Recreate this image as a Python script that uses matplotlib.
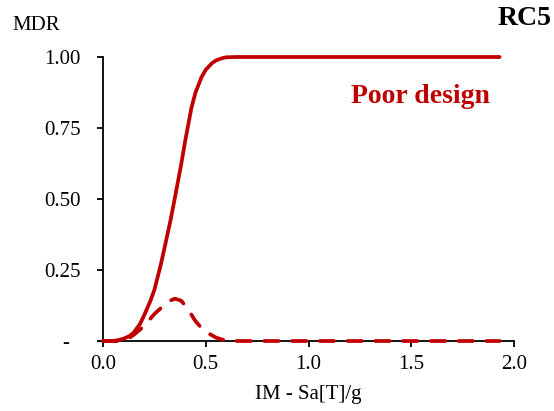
import numpy as np
from matplotlib import pyplot as plt

plt.rcParams['font.family'] = ['Liberation Serif', 'DejaVu Serif']

# intensity measure and damage ratio curves (RC5, poor design)
im = [0.0, 0.05, 0.08, 0.10, 0.13, 0.15, 0.18, 0.20, 0.23, 0.25, 0.28, 0.30,
      0.33, 0.35, 0.38, 0.40, 0.43, 0.45, 0.48, 0.50, 0.53, 0.55, 0.58, 0.60,
      0.65, 0.70, 0.80, 1.00, 1.20, 1.40, 1.60, 1.80, 1.93]
mdr = [0.0, 0.0, 0.004, 0.008, 0.018, 0.03, 0.06, 0.09, 0.14, 0.18, 0.265, 0.33,
       0.43, 0.505, 0.62, 0.705, 0.82, 0.875, 0.93, 0.955, 0.978, 0.988, 0.996, 0.999,
       1.0, 1.0, 1.0, 1.0, 1.0, 1.0, 1.0, 1.0, 1.0]
mdr_std = [0.0, 0.0, 0.0, 0.004, 0.012, 0.022, 0.04, 0.055, 0.078, 0.095, 0.115, 0.128,
           0.143, 0.149, 0.142, 0.125, 0.093, 0.07, 0.045, 0.033, 0.02, 0.012, 0.005, 0.002,
           0.0, 0.0, 0.0, 0.0, 0.0, 0.0, 0.0, 0.0, 0.0]

yticks = [0, 0.25, 0.5, 0.75, 1.0]
ylabels = ['-  ', '0.25', '0.50', '0.75', '1.00']
xticks = [0.0, 0.5, 1.0, 1.5, 2.0]

red = '#C00000'

fig = plt.figure(figsize=(5.54, 4.11), dpi=100)
ax = fig.add_axes([103/554, 1-341/411, 411/554, 284/411])

# lines sit on top of the axis and are not clipped at y = 0
ax.plot(im, mdr, color=red, lw=2.7, solid_capstyle='round', solid_joinstyle='round',
        clip_on=False, zorder=3)
ax.plot(im, mdr_std, color=red, lw=2.7, dashes=(3.8, 3.6), dash_capstyle='round',
        clip_on=False, zorder=3)

ax.set_xlim(0, 2)
ax.set_ylim(0, 1)
ax.set_xticks(xticks)
ax.set_xticklabels(['%.1f' % v for v in xticks])
ax.set_yticks(yticks)
ax.set_yticklabels(ylabels)
for s in ['top', 'right']:
    ax.spines[s].set_visible(False)
for s in ['left', 'bottom']:
    ax.spines[s].set_linewidth(1.3)
ax.tick_params(axis='y', length=4, width=1.3, pad=12, labelsize=15)
ax.tick_params(axis='x', length=4, width=1.3, pad=6, labelsize=15)
ax.set_xlabel('IM - Sa[T]/g', fontsize=15, labelpad=8)

fig.text(12/554, 1-30/411, 'MDR', fontsize=15, va='baseline', ha='left')
fig.text(552/554, 1-25/411, 'RC5', fontsize=20, fontweight='bold', va='baseline', ha='right')
fig.text(351/554, 1-103/411, 'Poor design', fontsize=20, fontweight='bold',
         color=red, va='baseline', ha='left')

fig.savefig('out.png', dpi=100)
